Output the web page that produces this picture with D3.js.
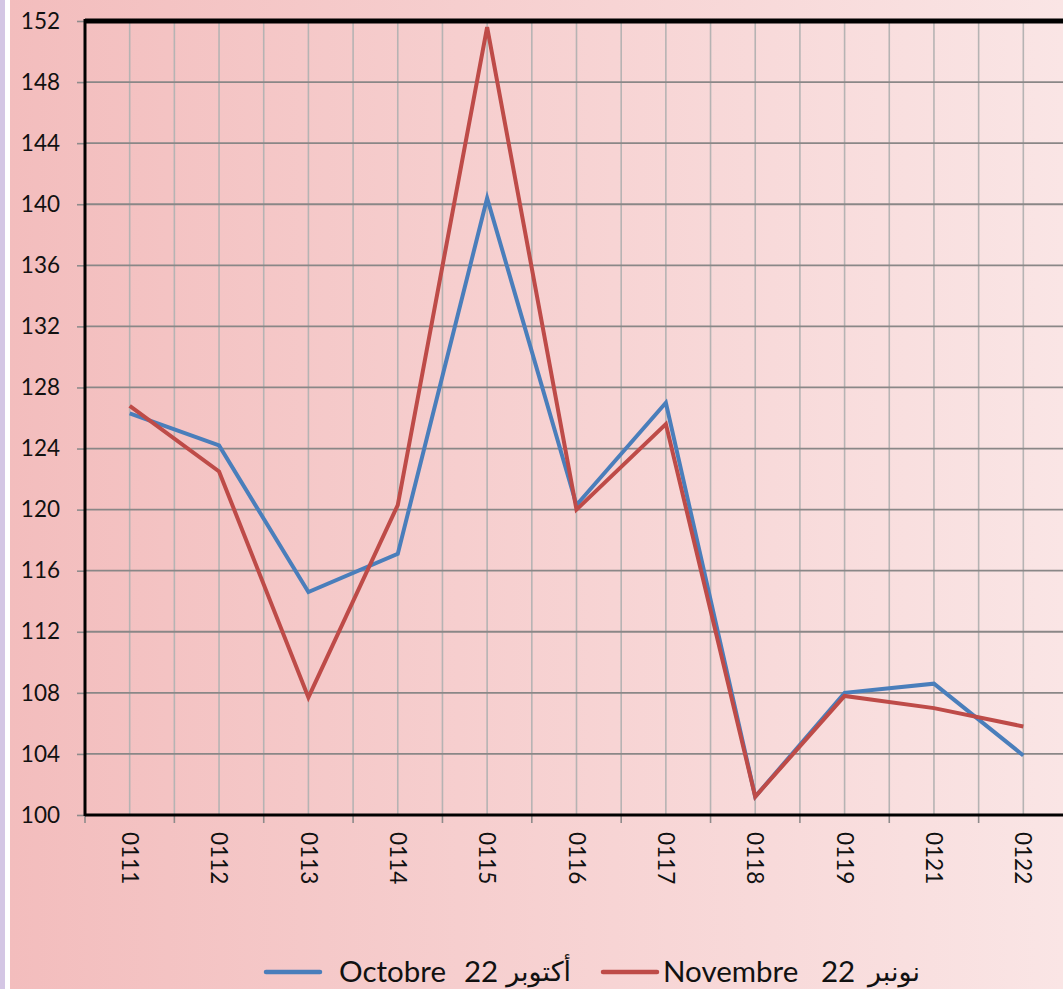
<!DOCTYPE html>
<html>
<head>
<meta charset="utf-8">
<script src="https://cdn.jsdelivr.net/npm/d3@7"></script>
<style>
  body { margin: 0; padding: 0; overflow: hidden; }
  svg { display: block; }
  .tickLabel { font-family: Lato, "Open Sans", sans-serif; font-size: 22.5px; fill: #111; }
  .legendText { font-family: Lato, "Open Sans", sans-serif; font-size: 29.5px; fill: #111; }
  .legendAr { font-family: "DejaVu Sans", sans-serif; font-size: 27px; fill: #111; }
</style>
</head>
<body>
<div id="chart"></div>
<script>
    // chart data
    let categories = ["0111", "0112", "0113", "0114", "0115", "0116", "0117", "0118", "0119", "0121", "0122"]
    let octobre = [126.3, 124.2, 114.6, 117.1, 140.4, 120.3, 127.0, 101.2, 108.0, 108.6, 103.9]
    let novembre = [126.8, 122.5, 107.7, 120.3, 151.6, 120.0, 125.6, 101.2, 107.8, 107.0, 105.8]
    let yTicks = [100, 104, 108, 112, 116, 120, 124, 128, 132, 136, 140, 144, 148, 152]
    let seriesFr = ["Octobre", "Novembre"]
    let seriesYear = ["22", "22"]
    let seriesAr = ["أكتوبر", "نونبر"]

    let colors = ["#4a7ebb", "#be4b48"]
    let series = [
        {fr: seriesFr[0], yr: seriesYear[0], ar: seriesAr[0], values: octobre, color: colors[0]},
        {fr: seriesFr[1], yr: seriesYear[1], ar: seriesAr[1], values: novembre, color: colors[1]}
    ]

    let width = 1063
    let height = 989
    let margin = {top: 21, left: 85, bottom: 815}

    let svg = d3.select("#chart")
        .append("svg")
        .attr("width", width)
        .attr("height", height)

    // background gradient
    let defs = svg.append("defs")
    let grad = defs.append("linearGradient")
        .attr("id", "bg")
        .attr("x1", "0").attr("x2", "1").attr("y1", "0").attr("y2", "0")
    grad.append("stop").attr("offset", "0").attr("stop-color", "#f3bdbd")
    grad.append("stop").attr("offset", "1").attr("stop-color", "#fae5e5")

    svg.append("rect").attr("x", 0).attr("y", 0).attr("width", 5).attr("height", height).attr("fill", "#d4c6e4")
    svg.append("rect").attr("x", 5).attr("y", 0).attr("width", 5).attr("height", height).attr("fill", "#ffffff")
    svg.append("rect").attr("x", 10).attr("y", 0).attr("width", width - 10).attr("height", height).attr("fill", "url(#bg)")

    // scales
    let x = d3.scaleBand()
        .domain(categories)
        .range([margin.left, 1068])
        .padding(0)

    let y = d3.scaleLinear()
        .domain([100, 152])
        .range([margin.bottom, margin.top])

    // vertical gridlines at band edges and centers
    let vLines = []
    categories.forEach(c => {
        vLines.push(x(c) + x.bandwidth() / 2)
        if (c !== categories[0]) vLines.push(x(c))
    })
    vLines.push(x(categories[categories.length - 1]) + x.bandwidth())

    svg.append("g")
        .selectAll("line")
        .data(vLines)
        .join("line")
        .attr("x1", d => d).attr("x2", d => d)
        .attr("y1", margin.top).attr("y2", margin.bottom)
        .attr("stroke", "#b6b3b3")
        .attr("stroke-width", 1.6)

    // horizontal gridlines
    svg.append("g")
        .selectAll("line")
        .data(yTicks.filter(d => d > 100 && d < 152))
        .join("line")
        .attr("x1", margin.left).attr("x2", width)
        .attr("y1", d => y(d)).attr("y2", d => y(d))
        .attr("stroke", "#8a8787")
        .attr("stroke-width", 1.8)

    // y axis
    let yAxis = svg.append("g")
        .attr("transform", "translate(" + margin.left + ",0)")
        .call(d3.axisLeft(y).tickValues(yTicks).tickSize(8).tickPadding(17))
    yAxis.select(".domain").remove()
    yAxis.selectAll(".tick line").attr("stroke", "#8e8b8b").attr("stroke-width", 1.6)
    yAxis.selectAll(".tick text").attr("class", "tickLabel").attr("font-size", null).attr("font-family", null)

    // x axis ticks at band edges
    let xEdges = categories.map(c => x(c))
    svg.append("g")
        .selectAll("line")
        .data(xEdges)
        .join("line")
        .attr("x1", d => d).attr("x2", d => d)
        .attr("y1", margin.bottom).attr("y2", margin.bottom + 8)
        .attr("stroke", "#8e8b8b")
        .attr("stroke-width", 1.6)

    // x labels, rotated
    svg.append("g")
        .selectAll("text")
        .data(categories)
        .join("text")
        .attr("class", "tickLabel")
        .attr("transform", d => "translate(" + (x(d) + x.bandwidth() / 2) + "," + (margin.bottom + 17) + ") rotate(90)")
        .attr("dy", "0.35em")
        .attr("text-anchor", "start")
        .text(d => d)

    // plot border
    svg.append("line")
        .attr("x1", margin.left).attr("x2", width)
        .attr("y1", margin.top).attr("y2", margin.top)
        .attr("stroke", "#000").attr("stroke-width", 5)
    svg.append("line")
        .attr("x1", margin.left).attr("x2", width)
        .attr("y1", margin.bottom).attr("y2", margin.bottom)
        .attr("stroke", "#000").attr("stroke-width", 3)
    svg.append("line")
        .attr("x1", margin.left).attr("x2", margin.left)
        .attr("y1", margin.top - 2).attr("y2", margin.bottom + 1)
        .attr("stroke", "#000").attr("stroke-width", 3)

    // lines
    let line = d3.line()
        .x((d, i) => x(categories[i]) + x.bandwidth() / 2)
        .y(d => y(d))

    svg.append("g")
        .selectAll("path")
        .data(series)
        .join("path")
        .attr("d", d => line(d.values))
        .attr("fill", "none")
        .attr("stroke", d => d.color)
        .attr("stroke-width", 4)
        .attr("stroke-linejoin", "miter")

    // legend
    let legend = svg.append("g").attr("transform", "translate(0,972)")
    let legendPos = [{lx: 266, fx: 339, yx: 464, ax: 571}, {lx: 603, fx: 663, yx: 821, ax: 920}]
    series.forEach((s, i) => {
        let p = legendPos[i]
        legend.append("line")
            .attr("x1", p.lx).attr("x2", p.lx + 54)
            .attr("y1", 0).attr("y2", 0)
            .attr("stroke", s.color)
            .attr("stroke-width", 4.5)
            .attr("stroke-linecap", "round")
        legend.append("text")
            .attr("class", "legendText")
            .attr("x", p.fx).attr("dy", "0.35em")
            .text(s.fr)
        legend.append("text")
            .attr("class", "legendText")
            .attr("x", p.yx).attr("dy", "0.35em")
            .text(s.yr)
        legend.append("text")
            .attr("class", "legendAr")
            .attr("x", p.ax).attr("dy", "0.35em")
            .attr("text-anchor", "end")
            .text(s.ar)
    })
</script>
</body>
</html>
